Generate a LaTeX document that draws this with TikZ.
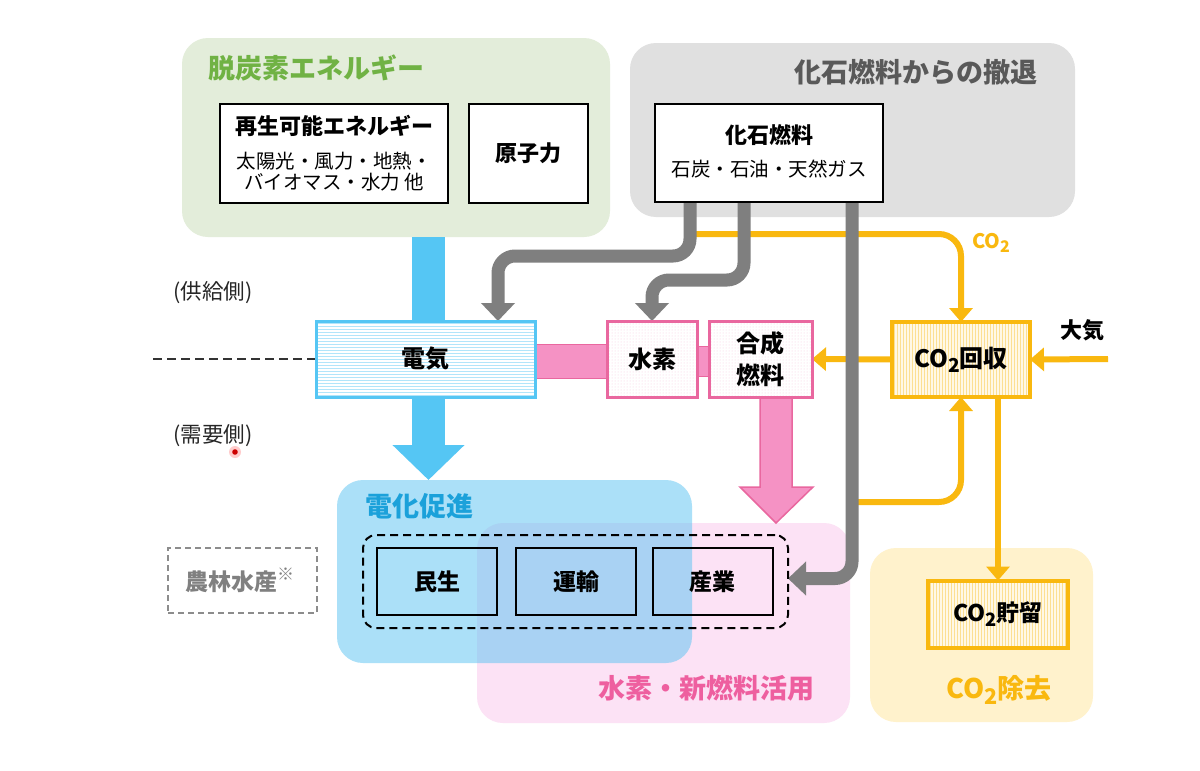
\documentclass[tikz,border=0pt]{standalone}
\usepackage{fontspec}
\setmainfont{Noto Sans CJK JP}
\usetikzlibrary{arrows.meta,patterns,calc}
\newcommand\fsz[2]{\fontsize{#1}{#2}\selectfont}
\newcommand\cotwo{CO\raisebox{-0.2em}{\scalebox{0.8}{2}}}
\definecolor{gfill}{HTML}{E3EDDA}
\definecolor{gtitle}{HTML}{70B244}
\definecolor{grayfill}{HTML}{E0E0E0}
\definecolor{graytitle}{HTML}{595959}
\definecolor{arrowgray}{HTML}{7F7F7F}
\definecolor{skyblue}{HTML}{55C6F4}
\definecolor{bluetitle}{HTML}{1BA1DA}
\definecolor{bluebox}{HTML}{5EC5F2}
\definecolor{pinkbar}{HTML}{F592C4}
\definecolor{pinkline}{HTML}{E9679F}
\definecolor{pinkbox}{HTML}{FCE2F5}
\definecolor{pinktitle}{HTML}{EE5F9F}
\definecolor{gold}{HTML}{F9B80F}
\definecolor{goldfill}{HTML}{FFF2CC}
\pgfdeclarelayer{back}
\pgfdeclarelayer{mid}
\pgfsetlayers{back,mid,main}
\begin{document}
\begin{tikzpicture}[x=1pt,y=-1pt,
  every node/.style={inner sep=0pt, outer sep=0pt},
  regionbox/.style={rectangle, rounded corners=26pt},
  titletext/.style={font=\fsz{27}{30}\bfseries},
  whitebox/.style={draw=black, line width=2pt, fill=white, align=center},
  sectorbox/.style={draw=black, line width=2pt, minimum width=120pt, minimum height=67pt, font=\fsz{23}{26}\bfseries},
  grayarrow/.style={draw=arrowgray, line width=13pt, rounded corners=17pt, -{Triangle[width=33pt,length=18pt]}},
  goldarrow/.style={draw=gold, line width=6pt, rounded corners=22pt, -{Triangle[width=23pt,length=14pt]}},
  blueshaft/.style={draw=skyblue, line width=33pt},
  bluearrow/.style={draw=skyblue, line width=33pt, -{Triangle[width=70pt,length=35pt]}},
  sidelabel/.style={font=\fsz{21.5}{24}, text=black!85},
]
\useasboundingbox (0,0) rectangle (1200,771);

\begin{pgfonlayer}{back}
\fill[white] (0,0) rectangle (1200,771);
\node[regionbox, fill=gfill, minimum width=428pt, minimum height=199pt] (decarb) at (396,137.5) {};
\node[regionbox, fill=grayfill, minimum width=445pt, minimum height=174pt] (retreat) at (852.5,130) {};
\node[regionbox, fill=pinkbox, minimum width=373pt, minimum height=200pt] (h2use) at (663.5,623) {};
\node[regionbox, fill=bluebox, fill opacity=0.52, minimum width=355pt, minimum height=183pt] (elecuse) at (514.5,571.5) {};
\node[regionbox, fill=goldfill, minimum width=223pt, minimum height=174pt] (co2rm) at (981.5,635) {};
\end{pgfonlayer}

% titles
\node[titletext, text=gtitle, anchor=west] (t1) at (208,68) {脱炭素エネルギー};
\node[titletext, text=graytitle, anchor=east] (t2) at (1037,72) {化石燃料からの撤退};
\node[titletext, text=bluetitle, anchor=west] (t3) at (365,506) {電化促進};
\node[titletext, text=pinktitle, anchor=east] (t4) at (814,688) {水素・新燃料活用};
\node[titletext, text=gold] (t5) at (999,690) {\cotwo 除去};

% supply boxes
\node[whitebox, minimum width=228pt, minimum height=99pt] (renew) at (334,153.5) {};
\node[font=\fsz{22}{24}\bfseries] (renewt) at (334,126) {再生可能エネルギー};
\node[font=\fsz{19.5}{21.5}, align=center] (renews) at (334,171.5) {太陽光・風力・地熱・\\バイオマス・水力 他};
\node[whitebox, minimum width=119pt, minimum height=99pt, font=\fsz{22}{24}\bfseries] (nuclear) at (528.5,153.5) {原子力};
\node[whitebox, minimum width=228pt, minimum height=98pt] (fossil) at (769,153) {};
\node[font=\fsz{22}{24}\bfseries] (fossilt) at (769,135) {化石燃料};
\node[font=\fsz{19.5}{22}] (fossils) at (769,169) {石炭・石油・天然ガス};

% main flow boxes
\node[draw=skyblue, line width=3pt, preaction={fill=white}, pattern=horizontal lines, pattern color=skyblue!45,
  minimum width=219pt, minimum height=76pt, font=\fsz{24}{26}\bfseries] (elec) at (425.5,359) {電気};
\node[draw=pinkline, line width=3pt, preaction={fill=white}, pattern=dots, pattern color=pinkline!35,
  minimum width=90pt, minimum height=76pt, font=\fsz{24}{26}\bfseries] (h2) at (652,359) {水素};
\node[draw=pinkline, line width=3pt, preaction={fill=white}, pattern=dots, pattern color=pinkline!35,
  minimum width=103pt, minimum height=76pt, align=center, font=\fsz{24}{32}\bfseries] (syn) at (760.5,359) {合成\\燃料};
\node[draw=gold, line width=4pt, preaction={fill=goldfill!50!white}, pattern=vertical lines, pattern color=gold!45,
  minimum width=138pt, minimum height=75pt, font=\fsz{24}{26}\bfseries] (cap) at (961,359.5) {\cotwo 回収};
\node[draw=gold, line width=4pt, preaction={fill=goldfill!50!white}, pattern=vertical lines, pattern color=gold!45,
  minimum width=140pt, minimum height=67pt, font=\fsz{23}{26}\bfseries] (store) at (998,614) {\cotwo 貯留};

% demand sectors
\node[draw=black, line width=2pt, dash pattern=on 8pt off 5pt, rounded corners=13pt,
  minimum width=425pt, minimum height=93pt] (sectors) at (575.5,581.5) {};
\node[sectorbox] (minsei) at (437,581.5) {民生};
\node[sectorbox] (unyu) at (576,581.5) {運輸};
\node[sectorbox] (sangyo) at (712.5,581.5) {産業};
\node[draw=black!45, line width=1.5pt, dash pattern=on 6pt off 4pt, minimum width=149pt, minimum height=65pt] (agri) at (242.5,580.5) {};
\node[font=\fsz{23}{25}\bfseries, text=black!50, anchor=west] (agrit) at (185,580) {農林水産\raisebox{0.45em}{\fsz{17}{17}※}};

% side labels
\node[sidelabel] (supply) at (213,293) {(供給側)};
\node[sidelabel] (demand) at (213,436) {(需要側)};
\node[font=\fsz{22}{24}\bfseries] (airlabel) at (1082,330) {大気};
\node[font=\fsz{20}{22}\bfseries, text=gold] (co2label) at (991,243) {\cotwo};
\fill[red!20] (235,452) circle (6);
\fill[red!80!black] (235,452) circle (2.8);

\coordinate (dl) at (153,359);
\coordinate (air) at (1108,359);
\coordinate (emit) at (852,502);
\coordinate (bx) at ([xshift=3pt]elec.north);
\coordinate (bx2) at ([xshift=3pt]elec.south);
\coordinate (pk) at ([xshift=15.5pt]syn.south);

\begin{pgfonlayer}{mid}
% pink bars
\draw[draw=pinkline, line width=1pt, fill=pinkbar] ($(elec.east)+(0,-15)$) rectangle ($(h2.west)+(0,19)$);
\draw[draw=pinkline, line width=1pt, fill=pinkbar] ($(h2.east)+(0,-13)$) rectangle ($(syn.west)+(0,17)$);
% pink arrow down
\draw[draw=pinkline, line width=1.5pt, fill=pinkbar, line join=miter]
  ($(pk)+(-16,0)$) -- ($(pk)+(-16,90)$) -- ($(pk)+(-36,90)$) -- (pk |- h2use.north)
  -- ($(pk)+(37,90)$) -- ($(pk)+(16,90)$) -- ($(pk)+(16,0)$);
% blue arrows
\draw[blueshaft] (bx |- decarb.south) -- (bx);
\draw[bluearrow] (bx2) -- (bx2 |- elecuse.north);
% dashed divider
\draw[line width=1.3pt, dash pattern=on 9pt off 5pt, black!80] (dl) -- (elec.west);
% yellow CO2 flows
\draw[goldarrow] ([xshift=-79pt,yshift=-32pt]fossil.south) -| (cap.north);
\draw[goldarrow] (air) -- (cap.east);
\draw[goldarrow] (cap.west) -- (syn.east);
\draw[goldarrow] (emit) -| (cap.south);
\draw[goldarrow] (store.north |- cap.south) -- (store.north);
% gray fossil arrows
\draw[grayarrow] ([xshift=-79pt]fossil.south) -- ++(0,54) -| ([xshift=72.5pt]elec.north);
\draw[grayarrow] ([xshift=-25pt]fossil.south) -- ++(0,78) -| (h2.north);
\draw[grayarrow] ([xshift=83pt]fossil.south) |- ([yshift=3pt]sectors.east);
\end{pgfonlayer}
\end{tikzpicture}
\end{document}
